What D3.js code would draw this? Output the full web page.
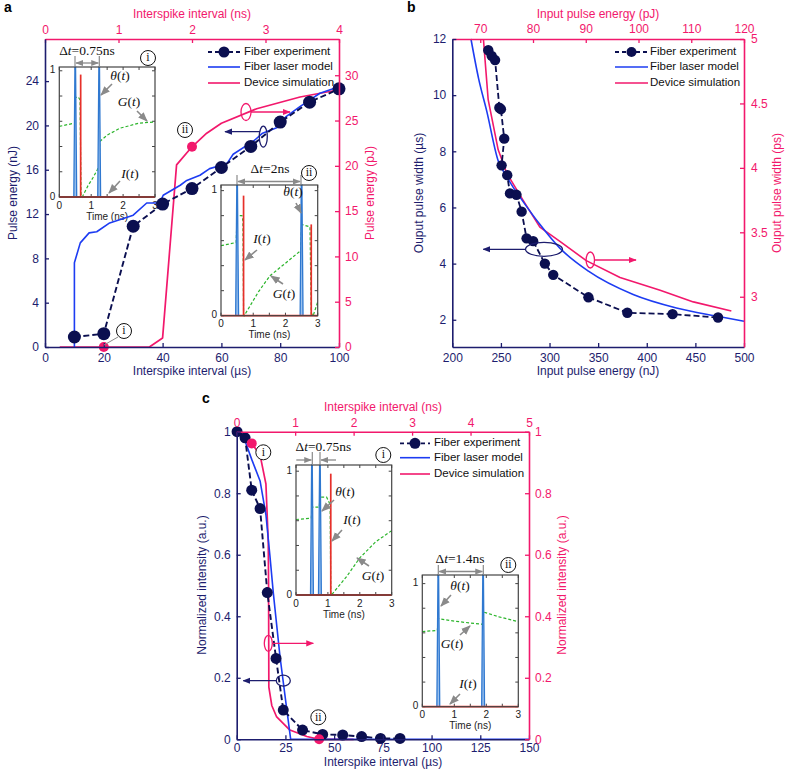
<!DOCTYPE html>
<html><head><meta charset="utf-8">
<script src="https://cdn.jsdelivr.net/npm/d3@7"></script>
<style>body{margin:0;background:#fff} svg{display:block} text{font-family:"Liberation Sans",Arial,sans-serif}</style>
</head><body><script>
// ---------- Panel a data ----------
const aExpX = [10,20,30,40,50,60,70,80,90,100];                 // µs
const aExpY = [0.9,1.2,10.9,12.9,14.3,16.2,18.1,20.3,22.1,23.3]; // nJ
const aModelX = [10,10,12,15,17.6,22,30,34.6,39,40.2,46,48,52.7,56,60,62,64,71,74,78.8,82,86.7,93.5,98,100];
const aModelY = [0,7.6,9.4,10.3,10.4,11.2,11.9,13.0,13.0,13.7,14.6,15.0,15.5,16.1,16.4,16.6,17.4,18.6,19.3,19.8,20.8,21.7,22.9,23.3,23.3];
const aSimX = [0.2,1.42,1.6,1.79,2.0,2.2,2.4,2.88,3.47,4.0];    // ns
const aSimY = [0,0,1.0,20.1,22.1,23.6,24.7,26.3,27.6,28.4];     // pJ
const aSimDotX = [0.8,2.0];
const aSimDotY = [0,22.1];
const aBottomTicks = [0,20,40,60,80,100];
const aLeftTicks = [0,4,8,12,16,20,24];
const aRightTicks = [0,5,10,15,20,25,30];
const aTopTicks = [0,1,2,3,4];

// inset a(i)
const ai_blue = [0.5,1.25];
const ai_redT = [0.67], ai_redH = [0.97];
const ai_gT = [0,0.48,0.5,0.6,0.65,0.68,0.72,0.9,1.05,1.2,1.25,1.27,1.5,1.9,2.5,3.0];
const ai_gV = [0.56,0.585,0.79,0.79,0.77,0.02,0,0.09,0.15,0.22,0.25,0.44,0.49,0.545,0.585,0.595];
// inset a(ii)
const aii_blue = [0.5,2.5];
const aii_redT = [0.7,2.8], aii_redH = [0.96,0.73];
const aii_gT = [0,0.47,0.5,0.65,0.68,0.7,0.72,1.16,1.52,1.93,2.47,2.5,2.76,2.8,2.86,3.0];
const aii_gV = [0.56,0.585,0.8,0.8,0.76,0.02,0,0.19,0.32,0.405,0.52,0.73,0.71,0.02,0,0.11];

// ---------- Panel b data ----------
const bExpX = [237,240.5,244,248.4,250,253.4,250.7,256.5,259.3,266,271.3,276.4,283.2,295.2,303.8,340,380,426.5,473.3]; // nJ
const bExpY = [11.6,11.4,11.25,9.55,9.5,8.45,7.5,7.15,6.5,6.45,5.85,4.9,4.8,4.0,3.6,2.8,2.25,2.2,2.08];           // µs
const bModelX = [219.2,227,235.3,247.3,256,263,273,290,310.6,340,386,430.5,470,500];
const bModelY = [12,10.6,9.45,7.65,7.1,6.7,6.2,5.4,4.55,3.73,2.9,2.42,2.14,1.95];
const bSimX = [70.6,71.5,73.4,74.4,75,78.1,81.3,85.1,90.1,96.5,104.1,110.4,117.6]; // pJ
const bSimY = [5,4.53,4.14,4.03,3.96,3.75,3.54,3.43,3.28,3.15,3.05,2.96,2.89];      // ps
const bBottomTicks = [200,250,300,350,400,450,500];
const bLeftTicks = [2,4,6,8,10,12];
const bRightTicks = [3,3.5,4,4.5,5];
const bTopTicks = [70,80,90,100,110,120];

// ---------- Panel c data ----------
const cExpX = [0.2,4.3,7.7,12,15.7,20.2,23.9,33.8,44.1,54.4,64.1,73.8,83.8];          // µs
const cExpY = [1.0,0.98,0.81,0.75,0.477,0.263,0.095,0.03,0.016,0.014,0.009,0.003,0.003];
const cModelX = [0,2,4.3,7.7,12,15,17,18.8,22.2,25.3,27.7,150];
const cModelY = [1,0.985,0.97,0.91,0.84,0.73,0.6,0.475,0.27,0.117,0,0];
const cSimX = [0,0.1,0.257,0.4,0.5,0.54,0.545,0.55,0.6,0.68,0.91,1.2,1.41,2.0];    // ns
const cSimY = [1,0.99,0.962,0.924,0.83,0.64,0.51,0.17,0.11,0.074,0.03,0.009,0,0];
const cSimDotX = [0.257,1.41];
const cSimDotY = [0.962,0];
const cBottomTicks = [0,25,50,75,100,125,150];
const cLeftTicks = [0,0.2,0.4,0.6,0.8,1];
const cTopTicks = [0,1,2,3,4,5];

// inset c(i)
const ci_blue = [0.5,0.75];
const ci_redT = [1.09], ci_redH = [0.98];
const ci_gT = [0,0.48,0.5,0.73,0.75,0.96,1.07,1.09,1.11,1.59,2.0,2.5,3.0];
const ci_gV = [0.61,0.62,0.71,0.71,0.79,0.79,0.73,0.02,0,0.15,0.3,0.43,0.52];
// inset c(ii)
const cii_blue = [0.5,1.9];
const cii_redT = [], cii_redH = [];
const cii_gT = [0,0.47,0.5,1.0,1.5,1.88,1.9,2.4,3.0];
const cii_gV = [0.61,0.62,0.716,0.695,0.68,0.67,0.77,0.73,0.69];

// ---------- styles ----------
const NAVY = "#1d1d6e", PINK = "#f2186c", BLUE = "#1d3cf2", DOT = "#0b0f50";
const GRAY = "#8a8a8a", SPIKE = "#2f78d0", SPIKEF = "#9cc2ee", RED = "#e6302a", GREEN = "#2cb52c";

const svg = d3.select("body").append("svg").attr("width",787).attr("height",770);
const defs = svg.append("defs");
function marker(id,color){
  defs.append("marker").attr("id",id).attr("viewBox","0 0 10 10").attr("refX",9).attr("refY",5)
    .attr("markerWidth",6).attr("markerHeight",6).attr("orient","auto-start-reverse")
    .append("path").attr("d","M0,1L10,5L0,9z").attr("fill",color);
}
marker("mNavy",NAVY); marker("mPink",PINK); marker("mGray",GRAY);

function styleAxis(g,color){
  g.select(".domain").attr("stroke",color).attr("stroke-width",1.6);
  g.selectAll(".tick line").attr("stroke",color).attr("stroke-width",1.3);
  g.selectAll(".tick text").attr("fill",color).style("font-size","12px").style("font-family","Liberation Sans, Arial, sans-serif");
}
function frame(x, xt, yl, yr, ticks, pads){
  const [x0,x1] = x.range(); const [y1,y0] = yl.range();
  const fmt = d3.format("~g");
  const p = pads || {b:6,t:5,r:6,l:6};
  const gb = svg.append("g").attr("transform",`translate(0,${y1})`)
    .call(d3.axisBottom(x).tickValues(ticks.b).tickFormat(fmt).tickSizeInner(-4).tickSizeOuter(0).tickPadding(p.b));
  styleAxis(gb,NAVY);
  const gt = svg.append("g").attr("transform",`translate(0,${y0})`)
    .call(d3.axisTop(xt).tickValues(ticks.t).tickFormat(fmt).tickSizeInner(-4).tickSizeOuter(0).tickPadding(p.t));
  styleAxis(gt,PINK);
  const gr = svg.append("g").attr("transform",`translate(${x1},0)`)
    .call(d3.axisRight(yr).tickValues(ticks.r).tickFormat(fmt).tickSizeInner(-4).tickSizeOuter(0).tickPadding(p.r));
  styleAxis(gr,PINK);
  const gl = svg.append("g").attr("transform",`translate(${x0},0)`)
    .call(d3.axisLeft(yl).tickValues(ticks.l).tickFormat(fmt).tickSizeInner(-4).tickSizeOuter(0).tickPadding(p.l));
  styleAxis(gl,NAVY);
}
function title(txt,x,y,color,rot){
  const t = svg.append("text").attr("text-anchor","middle").attr("dominant-baseline","middle")
    .attr("fill",color).style("font-size","12px").text(txt);
  if(rot) t.attr("transform",`translate(${x},${y}) rotate(-90)`); else t.attr("x",x).attr("y",y);
}
function lineOf(xs,ys,sx,sy,color,w,dash,curve){
  svg.append("path").datum(d3.zip(xs,ys)).attr("fill","none").attr("stroke",color).attr("stroke-width",w)
    .attr("stroke-dasharray",dash||null).attr("stroke-linejoin","round")
    .attr("d",d3.line().x(d=>sx(d[0])).y(d=>sy(d[1])).curve(curve||d3.curveLinear));
}
function dots(xs,ys,sx,sy,color,r){
  svg.append("g").selectAll("circle").data(d3.zip(xs,ys)).join("circle")
    .attr("cx",d=>sx(d[0])).attr("cy",d=>sy(d[1])).attr("r",r).attr("fill",color);
}
function legend(x0,x1,tx,ys,r){
  const items = [["Fiber experiment",DOT,"4,3",true],["Fiber laser model",BLUE,null,false],["Device simulation",PINK,null,false]];
  items.forEach((it,i)=>{
    svg.append("line").attr("x1",x0).attr("x2",x1).attr("y1",ys[i]).attr("y2",ys[i])
      .attr("stroke",it[1]).attr("stroke-width",i==0?1.8:1.6).attr("stroke-dasharray",it[2]);
    if(it[3]) svg.append("circle").attr("cx",(x0+x1)/2).attr("cy",ys[i]).attr("r",r).attr("fill",DOT);
    svg.append("text").attr("x",tx).attr("y",ys[i]).attr("dominant-baseline","middle")
      .style("font-size","11.5px").attr("fill","#111").text(it[0]);
  });
}
function circled(x,y,label){
  svg.append("circle").attr("cx",x).attr("cy",y).attr("r",7.5).attr("fill","#fff").attr("stroke","#111").attr("stroke-width",1);
  svg.append("text").attr("x",x).attr("y",y+0.5).attr("text-anchor","middle").attr("dominant-baseline","middle")
    .style("font-family","Liberation Serif, serif").style("font-size","12px").attr("fill","#111").text(label);
}
function ellArrow(cx,cy,rx,ry,color,x1,x2,y,mk){
  svg.append("ellipse").attr("cx",cx).attr("cy",cy).attr("rx",rx).attr("ry",ry).attr("fill","none").attr("stroke",color).attr("stroke-width",1.3);
  svg.append("line").attr("x1",x1).attr("x2",x2).attr("y1",y).attr("y2",y).attr("stroke",color).attr("stroke-width",1.3).attr("marker-end",`url(#${mk})`);
}
function grayArrow(x1,y1,x2,y2){
  svg.append("line").attr("x1",x1).attr("y1",y1).attr("x2",x2).attr("y2",y2).attr("stroke",GRAY).attr("stroke-width",1.6).attr("marker-end","url(#mGray)");
}
function func(x,y,letter){
  const t = svg.append("text").attr("x",x).attr("y",y).attr("text-anchor","middle").attr("dominant-baseline","middle")
    .style("font-family","Liberation Serif, serif").style("font-size","13.5px").attr("fill","#111");
  t.append("tspan").style("font-style","italic").text(letter);
  t.append("tspan").text("(");
  t.append("tspan").style("font-style","italic").text("t");
  t.append("tspan").text(")");
}
function deltaT(cx,cy,val,xa,xb,ya,yb,inward){
  const t = svg.append("text").attr("x",cx).attr("y",cy).attr("text-anchor","middle").attr("dominant-baseline","middle")
    .style("font-family","Liberation Serif, serif").style("font-size","13.5px").attr("fill","#111");
  t.append("tspan").text("Δ"); t.append("tspan").style("font-style","italic").text("t"); t.append("tspan").text("="+val);
  [xa,xb].forEach(x=>svg.append("line").attr("x1",x).attr("x2",x).attr("y1",ya).attr("y2",yb).attr("stroke",GRAY).attr("stroke-width",1.2));
  const ym = (ya+yb)/2+1.5;
  if(!inward){
    svg.append("line").attr("x1",xa+1).attr("x2",xb-1).attr("y1",ym).attr("y2",ym).attr("stroke",GRAY).attr("stroke-width",1.3)
      .attr("marker-start","url(#mGray)").attr("marker-end","url(#mGray)");
  } else {
    svg.append("line").attr("x1",xa-16).attr("x2",xa-1).attr("y1",ym).attr("y2",ym).attr("stroke",GRAY).attr("stroke-width",1.3).attr("marker-end","url(#mGray)");
    svg.append("line").attr("x1",xb+16).attr("x2",xb+1).attr("y1",ym).attr("y2",ym).attr("stroke",GRAY).attr("stroke-width",1.3).attr("marker-end","url(#mGray)");
  }
}
function inset(x0,x1,y0,y1,ymax,blue,redT,redH,gT,gV){
  const x = d3.scaleLinear([0,3],[x0,x1]), y = d3.scaleLinear([0,ymax],[y1,y0]);
  const g = svg.append("g");
  g.append("rect").attr("x",x0).attr("y",y0).attr("width",x1-x0).attr("height",y1-y0).attr("fill","#fff");
  d3.range(0,3.01,0.5).forEach(t=>{
    g.append("line").attr("x1",x(t)).attr("x2",x(t)).attr("y1",y1).attr("y2",y1-3).attr("stroke","#444");
    g.append("line").attr("x1",x(t)).attr("x2",x(t)).attr("y1",y0).attr("y2",y0+3).attr("stroke","#444");
  });
  d3.range(0,1.01,0.2).forEach(v=>{
    g.append("line").attr("x1",x0).attr("x2",x0+3).attr("y1",y(v)).attr("y2",y(v)).attr("stroke","#444");
    g.append("line").attr("x1",x1).attr("x2",x1-3).attr("y1",y(v)).attr("y2",y(v)).attr("stroke","#444");
  });
  const ln = d3.line().x(d=>x(d[0])).y(d=>y(d[1]));
  g.append("path").datum(d3.zip(gT,gV)).attr("d",ln).attr("fill","none").attr("stroke",GREEN).attr("stroke-width",1.2).attr("stroke-dasharray","3,2");
  blue.forEach(t=>{
    g.append("path").datum([[t-0.045,0],[t-0.01,ymax],[t+0.01,ymax],[t+0.045,0]]).attr("d",ln)
      .attr("fill",SPIKEF).attr("stroke",SPIKE).attr("stroke-width",1.3);
  });
  d3.zip(redT,redH).forEach(([t,h])=>{
    g.append("path").datum([[t,0],[t,h]]).attr("d",ln).attr("stroke",RED).attr("stroke-width",1.7);
  });
  g.append("path").datum([[0,0],[3,0]]).attr("d",ln).attr("stroke",RED).attr("stroke-width",1.8);
  g.append("rect").attr("x",x0).attr("y",y0).attr("width",x1-x0).attr("height",y1-y0).attr("fill","none").attr("stroke","#444").attr("stroke-width",1.2);
  [0,1,2,3].forEach(t=>g.append("text").attr("x",x(t)).attr("y",y1+9).attr("text-anchor","middle").attr("dominant-baseline","middle")
    .style("font-size","10px").attr("fill","#222").text(t));
  [0,1].forEach(v=>g.append("text").attr("x",x0-4).attr("y",y(v)).attr("text-anchor","end").attr("dominant-baseline","middle")
    .style("font-size","10px").attr("fill","#222").text(v));
  g.append("text").attr("x",(x0+x1)/2).attr("y",y1+20).attr("text-anchor","middle").attr("dominant-baseline","middle")
    .style("font-size","10px").attr("fill","#222").text("Time (ns)");
  return x;
}

// ================= Panel a =================
const xA = d3.scaleLinear([0,100],[45,339]);
const xAt = d3.scaleLinear([0,4],[45,339]);
const yAL = d3.scaleLinear([0,27.8],[347,39]);
const yAR = d3.scaleLinear([0,34],[347,39]);
svg.append("text").attr("x",4).attr("y",12).style("font-size","14px").style("font-weight","bold").text("a");
title("Interspike interval (ns)",192,15,PINK);
title("Interspike interval (µs)",192,372,NAVY);
title("Pulse energy (nJ)",14,193,NAVY,true);
title("Pulse energy (pJ)",371,193,PINK,true);

inset(59.3,155,67,197,1.03,ai_blue,ai_redT,ai_redH,ai_gT,ai_gV);
inset(221,317.7,185,315.7,1.045,aii_blue,aii_redT,aii_redH,aii_gT,aii_gV);

lineOf(aSimX,aSimY,xAt,yAR,PINK,1.7);
lineOf(aModelX,aModelY,xA,yAL,BLUE,1.6);
lineOf(aExpX,aExpY,xA,yAL,DOT,1.9,"6,3");
dots(aExpX,aExpY,xA,yAL,DOT,6.5);
dots(aSimDotX,aSimDotY,xAt,yAR,PINK,5);
frame(xA,xAt,yAL,yAR,{b:aBottomTicks,t:aTopTicks,l:aLeftTicks,r:aRightTicks});
legend(208,240,244,[52,67,83],5.5);

deltaT(87,52,"0.75ns",75,99.3,56,67,false);
circled(148,58,"i");
func(120,77,"θ"); grayArrow(112,84,101,95);
func(129,103,"G"); grayArrow(137,111,147,121);
func(130,175,"I"); grayArrow(120,181,109,193);
deltaT(270,170,"2ns",237,301,175,185,false);
circled(309,173,"ii");
func(293,193,"θ"); grayArrow(296,203,301,213);
func(262,240,"I"); grayArrow(257,250,245,260);
func(284,295,"G"); grayArrow(283,284,271,276);
svg.append("line").attr("x1",118).attr("y1",337).attr("x2",104).attr("y2",345).attr("stroke",GRAY).attr("stroke-width",1);
circled(124,331,"i");
circled(185,130,"ii");
ellArrow(246,112,5,8.5,PINK,251,290,112,"mPink");
ellArrow(263.3,136.7,4,10.5,NAVY,260,225,131.7,"mNavy");

// ================= Panel b =================
const xB = d3.scaleLinear([200,500],[452.3,744]);
const xBt = d3.scaleLinear([64.7,120],[452.3,744]);
const yBL = d3.scaleLinear([1.03,12],[347,39]);
const yBR = d3.scaleLinear([2.61,5],[347,39]);
svg.append("text").attr("x",407).attr("y",12).style("font-size","14px").style("font-weight","bold").text("b");
title("Input pulse energy (pJ)",598,15,PINK);
title("Input pulse energy (nJ)",598,372,NAVY);
title("Ouput pulse width (µs)",420,193,NAVY,true);
title("Ouput pulse width (ps)",778,193,PINK,true);
lineOf(bSimX,bSimY,xBt,yBR,PINK,1.6);
lineOf(bModelX,bModelY,xB,yBL,BLUE,1.6,null,d3.curveMonotoneX);
lineOf(bExpX,bExpY,xB,yBL,DOT,1.8,"6,3");
dots(bExpX,bExpY,xB,yBL,DOT,5.2);
frame(xB,xBt,yBL,yBR,{b:bBottomTicks,t:bTopTicks,l:bLeftTicks,r:bRightTicks},{b:6,t:6,r:7,l:6});
legend(615,648,650,[52,67,83],5);
ellArrow(544,249.3,18.5,7,NAVY,525.5,483.3,249.3,"mNavy");
ellArrow(590.3,260,4.2,8,PINK,594.5,636,260,"mPink");

// ================= Panel c =================
const xC = d3.scaleLinear([0,150],[236.7,529]);
const xCt = d3.scaleLinear([0,5],[236.7,529]);
const yCL = d3.scaleLinear([0,1],[739.3,431.7]);
const yCR = d3.scaleLinear([0,1],[739.3,431.7]);
svg.append("text").attr("x",202).attr("y",403).style("font-size","14px").style("font-weight","bold").text("c");
title("Interspike interval (ns)",383,408,PINK);
title("Interspike interval (µs)",383,763,NAVY);
title("Normalized intensity (a.u.)",203,585,NAVY,true);
title("Normalized intensity (a.u.)",563,585,PINK,true);

inset(296,391.7,465,595,1.05,ci_blue,ci_redT,ci_redH,ci_gT,ci_gV);
inset(422.3,518.3,575,706.7,1.07,cii_blue,cii_redT,cii_redH,cii_gT,cii_gV);

lineOf(cSimX,cSimY,xCt,yCR,PINK,1.7);
lineOf(cModelX,cModelY,xC,yCL,BLUE,1.6);
lineOf(cExpX,cExpY,xC,yCL,DOT,1.9,"6,3");
dots(cExpX,cExpY,xC,yCL,DOT,5.5);
dots(cSimDotX,cSimDotY,xCt,yCR,PINK,5);
frame(xC,xCt,yCL,yCR,{b:cBottomTicks,t:cTopTicks,l:cLeftTicks,r:cLeftTicks},{b:4,t:5,r:6,l:6});
legend(400,430,434,[443.3,457.7,474],5.5);

deltaT(323.3,448.3,"0.75ns",312.3,320,452,465,true);
circled(383.3,455,"i");
func(345,493,"θ"); grayArrow(334,500,322,511);
func(352,521,"I"); grayArrow(342,530,332,541);
func(373,577,"G"); grayArrow(369,566,357,558);
deltaT(460,560,"1.4ns",438.3,483.3,565,575,false);
circled(508.3,565,"ii");
func(460,587,"θ"); grayArrow(451,595,441,606);
func(452,645,"G"); grayArrow(460,635,470,626);
func(468,685,"I"); grayArrow(460,694,450,704);
circled(263.3,452.3,"i");
circled(318.3,717.3,"ii");
ellArrow(268.3,643.3,4,8,PINK,272,313.3,643.3,"mPink");
ellArrow(283.3,680.7,7,5.5,NAVY,276,243.3,680.7,"mNavy");
</script></body></html>
